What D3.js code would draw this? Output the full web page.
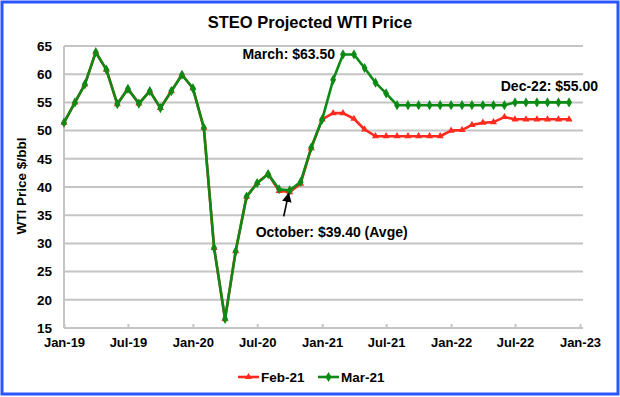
<!DOCTYPE html>
<html>
<head>
<meta charset="utf-8">
<script src="https://cdn.jsdelivr.net/npm/d3@7"></script>
<style>
    body { margin: 0; background: #fff; }
    svg { display: block; font-family: "Liberation Sans", Arial, sans-serif; }
</style>
</head>
<body>
<svg id="chart" width="620" height="397"></svg>
<script>
/*
 * STEO Projected WTI Price
 */

var firstMonth = new Date(2019, 0, 1),
    lastMonth = new Date(2022, 11, 1);

var seriesNames = ['Feb-21', 'Mar-21'];

// Feb-21 STEO, $/bbl, Jan-19 .. Dec-22
var feb21 = [
    51.4, 55.0, 58.2, 63.9, 60.8, 54.7, 57.4, 54.8, 57.0, 54.0, 57.0, 59.9,
    57.5, 50.5, 29.2, 16.6, 28.6, 38.3, 40.7, 42.3, 39.3, 39.1, 40.6, 46.9,
    52.0, 53.1, 53.1, 52.1, 50.2, 49.0, 49.0, 49.0, 49.0, 49.0, 49.0, 49.0,
    50.0, 50.1, 51.0, 51.4, 51.5, 52.4, 52.0, 52.0, 52.0, 52.0, 52.0, 52.0
];

// Mar-21 STEO, $/bbl, Jan-19 .. Dec-22
var mar21 = [
    51.4, 55.0, 58.2, 63.9, 60.8, 54.7, 57.4, 54.8, 57.0, 54.0, 57.0, 59.9,
    57.5, 50.5, 29.2, 16.6, 28.6, 38.3, 40.7, 42.3, 39.6, 39.4, 40.9, 47.0,
    52.0, 59.0, 63.5, 63.5, 61.1, 58.5, 56.6, 54.5, 54.5, 54.5, 54.5, 54.5,
    54.5, 54.5, 54.5, 54.5, 54.5, 54.5, 55.0, 55.0, 55.0, 55.0, 55.0, 55.0
];

var yTicks = [15, 20, 25, 30, 35, 40, 45, 50, 55, 60, 65];

var annotations = [
    { text: 'March: $63.50', month: new Date(2021, 2, 1), value: 63.5 },
    { text: 'Dec-22: $55.00', month: new Date(2022, 11, 1), value: 55.0 },
    { text: 'October: $39.40 (Avge)', month: new Date(2020, 9, 1), value: 39.4 }
];

var green = '#0b8a14',
    red = '#ff2a1e',
    grid = '#c4c4c4',
    border = '#2b55ff';

var months = d3.timeMonth.range(firstMonth, d3.timeMonth.offset(lastMonth, 1));

var margin = { left: 64, right: 37, top: 46, bottom: 67 },
    width = 620, height = 397,
    innerW = width - margin.left - margin.right,
    innerH = height - margin.top - margin.bottom;

var svg = d3.select('#chart');

// frame
svg.append('rect')
    .attr('x', 2).attr('y', 2)
    .attr('width', width - 4).attr('height', height - 5)
    .attr('fill', '#fff')
    .attr('stroke', border)
    .attr('stroke-width', 3);

svg.append('text')
    .attr('x', 310).attr('y', 28)
    .attr('text-anchor', 'middle')
    .attr('font-size', 16.5)
    .attr('font-weight', 'bold')
    .text('STEO Projected WTI Price');

var x = d3.scaleTime()
    .domain([firstMonth, new Date(2023, 0, 1)])
    .range([0, innerW - 3]);

var y = d3.scaleLinear()
    .domain([15, 65])
    .range([innerH - 2, 0]);

var g = svg.append('g')
    .attr('transform', 'translate(' + margin.left + ',' + margin.top + ')');

// gridlines
g.append('g')
    .selectAll('line')
    .data(yTicks)
    .join('line')
    .attr('x1', 0).attr('x2', innerW)
    .attr('y1', function (d) { return y(d); })
    .attr('y2', function (d) { return y(d); })
    .attr('stroke', grid)
    .attr('stroke-width', 2);

g.append('line')
    .attr('x1', 0).attr('x2', 0)
    .attr('y1', 0).attr('y2', y(15))
    .attr('stroke', grid)
    .attr('stroke-width', 2);

// y axis labels
var yAxis = g.append('g')
    .call(d3.axisLeft(y).tickValues(yTicks).tickSize(0).tickPadding(12));
yAxis.select('.domain').remove();
yAxis.selectAll('text')
    .attr('font-family', '"Liberation Sans", Arial, sans-serif')
    .attr('font-size', 13.5)
    .attr('font-weight', 'bold')
    .attr('fill', '#000');

// x axis
var xTicks = d3.timeMonth.every(6).range(firstMonth, new Date(2023, 0, 2));
var xAxis = g.append('g')
    .attr('transform', 'translate(0,' + y(15) + ')')
    .call(d3.axisBottom(x).tickValues(xTicks).tickFormat(d3.timeFormat('%b-%y')).tickSize(-4).tickPadding(10));
xAxis.select('.domain').remove();
xAxis.selectAll('line').attr('stroke', grid).attr('stroke-width', 2);
xAxis.selectAll('text')
    .attr('font-family', '"Liberation Sans", Arial, sans-serif')
    .attr('font-size', 13)
    .attr('font-weight', 'bold')
    .attr('fill', '#000');

svg.append('text')
    .attr('transform', 'translate(26,' + (margin.top + innerH / 2 - 2) + ') rotate(-90)')
    .attr('text-anchor', 'middle')
    .attr('font-size', 13.5)
    .attr('font-weight', 'bold')
    .text('WTI Price $/bbl');

// series
var line = d3.line()
    .x(function (d, i) { return x(months[i]); })
    .y(function (d) { return y(d); });

function drawSeries(values, colour, symbol, size) {
    g.append('path')
        .datum(values)
        .attr('fill', 'none')
        .attr('stroke', colour)
        .attr('stroke-width', 2.6)
        .attr('stroke-linejoin', 'round')
        .attr('d', line);

    g.append('g')
        .selectAll('path')
        .data(values)
        .join('path')
        .attr('transform', function (d, i) {
            return 'translate(' + x(months[i]) + ',' + y(d) + ')';
        })
        .attr('fill', colour)
        .attr('d', d3.symbol().type(symbol).size(size));
}

drawSeries(feb21, red, d3.symbolTriangle, 22);
drawSeries(mar21, green, d3.symbolDiamond, 30);

// annotations
var ann = g.append('g')
    .attr('font-size', 14)
    .attr('font-weight', 'bold');

ann.append('text')
    .attr('x', x(annotations[0].month) - 8)
    .attr('y', y(annotations[0].value) + 5)
    .attr('text-anchor', 'end')
    .text(annotations[0].text);

ann.append('text')
    .attr('x', x(annotations[1].month) + 29)
    .attr('y', y(annotations[1].value) - 11)
    .attr('text-anchor', 'end')
    .text(annotations[1].text);

var oct = annotations[2],
    ox = x(oct.month), oy = y(oct.value);

ann.append('text')
    .attr('x', ox - 34)
    .attr('y', oy + 47)
    .text(oct.text);

svg.append('defs').append('marker')
    .attr('id', 'arrow')
    .attr('viewBox', '0 0 10 10')
    .attr('refX', 9).attr('refY', 5)
    .attr('markerWidth', 6).attr('markerHeight', 6)
    .attr('orient', 'auto')
    .append('path')
    .attr('d', 'M0,0 L10,5 L0,10 z')
    .attr('fill', '#000');

ann.append('line')
    .attr('x1', ox - 6).attr('y1', oy + 26)
    .attr('x2', ox - 1).attr('y2', oy + 3)
    .attr('stroke', '#000')
    .attr('stroke-width', 1.6)
    .attr('marker-end', 'url(#arrow)');

// legend
var legend = svg.append('g')
    .attr('transform', 'translate(238,377)')
    .attr('font-size', 13.5)
    .attr('font-weight', 'bold');

var legendItems = [
    { name: seriesNames[0], colour: red, symbol: d3.symbolTriangle, size: 22, dx: 0 },
    { name: seriesNames[1], colour: green, symbol: d3.symbolDiamond, size: 30, dx: 80 }
];

legendItems.forEach(function (item) {
    var li = legend.append('g').attr('transform', 'translate(' + item.dx + ',0)');
    li.append('line')
        .attr('x1', 0).attr('x2', 21)
        .attr('stroke', item.colour)
        .attr('stroke-width', 2.6);
    li.append('path')
        .attr('transform', 'translate(10.5,0)')
        .attr('fill', item.colour)
        .attr('d', d3.symbol().type(item.symbol).size(item.size));
    li.append('text')
        .attr('x', 23).attr('y', 5)
        .text(item.name);
});
</script>
</body>
</html>
